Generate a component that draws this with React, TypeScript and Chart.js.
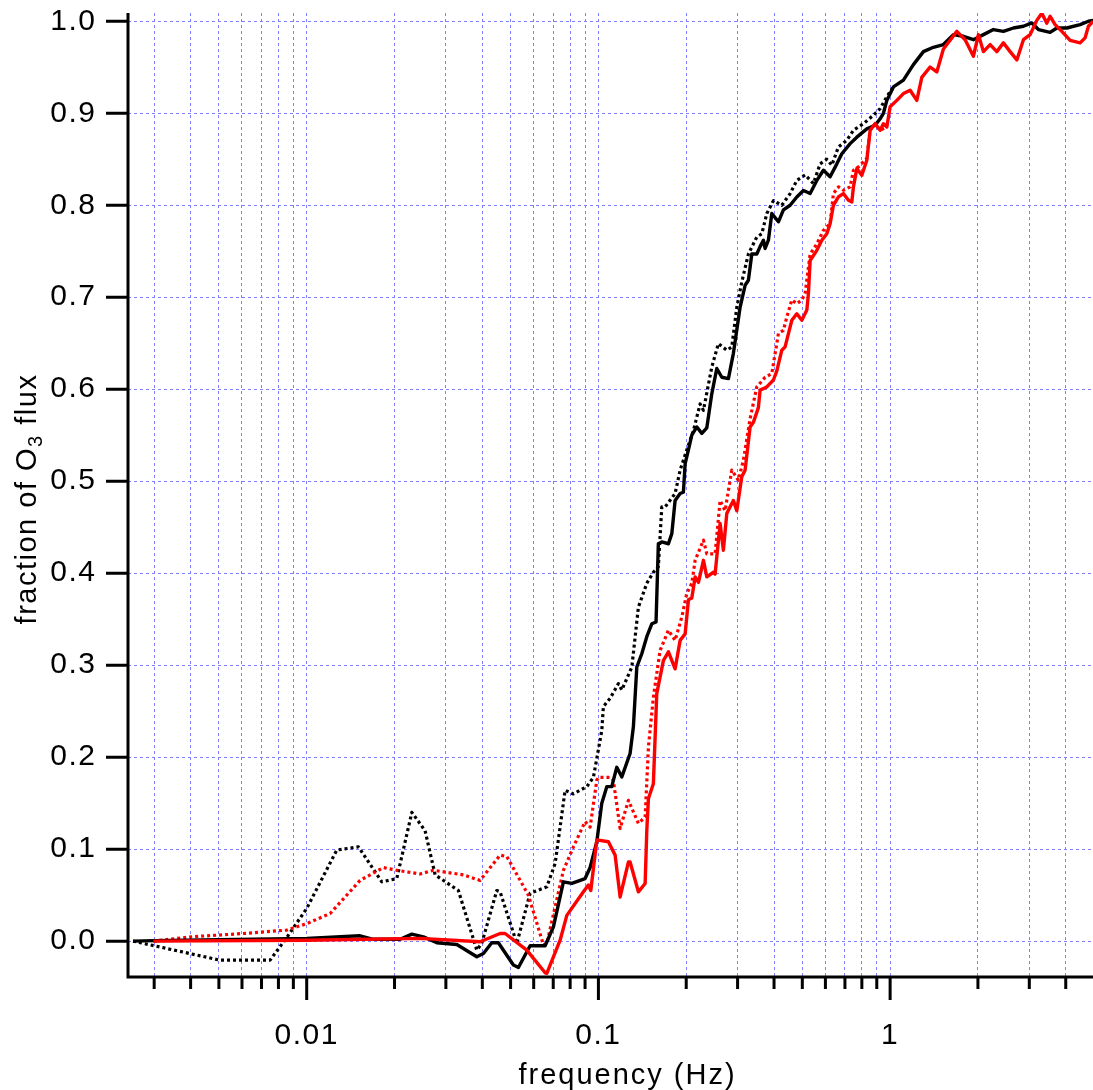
import React, { useEffect, useRef } from 'react';
import { Chart, registerables } from 'chart.js';

Chart.register(...registerables);

// ---------------- data (frequency in Hz, fraction of O3 flux) ----------------
const blackSolidFreq = [0.00254, 0.003, 0.005, 0.01, 0.01524, 0.01693, 0.0209, 0.02293, 0.02512, 0.02793, 0.0327, 0.03829, 0.04035, 0.0431, 0.0454, 0.05112, 0.05318, 0.05832, 0.0631, 0.06567, 0.07011, 0.07586, 0.08106, 0.09003, 0.09367, 0.09874, 0.1027, 0.1069, 0.1111, 0.1156, 0.1203, 0.1284, 0.1318, 0.1354, 0.1409, 0.1465, 0.1524, 0.1576, 0.1605, 0.1649, 0.1738, 0.1785, 0.1832, 0.1906, 0.1956, 0.1983, 0.2035, 0.209, 0.2175, 0.2262, 0.2353, 0.2447, 0.2546, 0.2649, 0.279, 0.2902, 0.306, 0.3183, 0.3267, 0.3356, 0.3491, 0.3583, 0.3678, 0.3728, 0.3826, 0.393, 0.4141, 0.4307, 0.4542, 0.4788, 0.5044, 0.5318, 0.5607, 0.5907, 0.6227, 0.6567, 0.683, 0.7293, 0.7689, 0.832, 0.8884, 0.9241, 0.9484, 0.9743, 1.0264, 1.1106, 1.2018, 1.3005, 1.4071, 1.5227, 1.6482, 1.7835, 1.93, 2.0888, 2.2599, 2.4454, 2.6464, 2.8642, 3.0607, 3.2241, 3.5357, 3.728, 4.0345, 4.4803, 4.7844, 4.966];
const blackSolidFrac = [0, 0.0005, 0.0015, 0.003, 0.0058, 0.002, 0.002, 0.0076, 0.0047, -0.0018, -0.0036, -0.017, -0.0134, -0.0018, -0.0018, -0.026, -0.0286, -0.005, -0.005, -0.005, 0.0155, 0.0645, 0.0627, 0.068, 0.08, 0.108, 0.15, 0.168, 0.168, 0.189, 0.1785, 0.204, 0.233, 0.298, 0.3127, 0.331, 0.345, 0.347, 0.432, 0.434, 0.432, 0.443, 0.479, 0.4866, 0.488, 0.519, 0.534, 0.55, 0.559, 0.552, 0.558, 0.595, 0.6225, 0.613, 0.6115, 0.639, 0.689, 0.713, 0.7185, 0.747, 0.747, 0.755, 0.762, 0.753, 0.762, 0.791, 0.782, 0.795, 0.8, 0.809, 0.816, 0.8127, 0.827, 0.838, 0.831, 0.845, 0.856, 0.867, 0.874, 0.883, 0.887, 0.894, 0.9, 0.914, 0.9286, 0.936, 0.9529, 0.967, 0.9717, 0.9747, 0.9855, 0.9837, 0.98, 0.9855, 0.991, 0.989, 0.9927, 0.9946, 0.9982, 0.991, 0.988, 0.9927, 0.9927, 0.9964, 1.0, 1.001];

const blackDottedFreq = [0.00254, 0.005047, 0.007489, 0.008546, 0.01, 0.01268, 0.01504, 0.01809, 0.02036, 0.02293, 0.02546, 0.02756, 0.03311, 0.03829, 0.03982, 0.04483, 0.04603, 0.05251, 0.05832, 0.06655, 0.07107, 0.07688, 0.0821, 0.08884, 0.09125, 0.09613, 0.1027, 0.104, 0.1097, 0.1171, 0.1203, 0.1302, 0.1371, 0.1465, 0.1543, 0.1605, 0.1649, 0.1693, 0.1832, 0.1906, 0.2009, 0.2117, 0.2232, 0.2291, 0.2447, 0.2578, 0.2755, 0.2866, 0.2981, 0.3101, 0.3267, 0.3491, 0.3632, 0.3778, 0.3981, 0.4253, 0.4542, 0.4788, 0.5112, 0.5459, 0.5754, 0.6067, 0.6311, 0.6649, 0.7105, 0.7486, 0.81, 0.8764, 0.9241, 0.9743, 1.0264];
const blackDottedFrac = [0, -0.0207, -0.0207, 0.004, 0.0355, 0.099, 0.1025, 0.0645, 0.068, 0.14, 0.12, 0.072, 0.055, -0.0098, -0.0025, 0.055, 0.0535, -0.0025, 0.052, 0.059, 0.0845, 0.164, 0.16, 0.166, 0.168, 0.178, 0.229, 0.255, 0.264, 0.28, 0.273, 0.298, 0.363, 0.389, 0.401, 0.407, 0.472, 0.472, 0.4866, 0.512, 0.534, 0.555, 0.584, 0.577, 0.624, 0.6496, 0.6424, 0.646, 0.689, 0.7166, 0.747, 0.7655, 0.769, 0.791, 0.805, 0.8, 0.8127, 0.827, 0.833, 0.8236, 0.845, 0.85, 0.8435, 0.8634, 0.8707, 0.8815, 0.8887, 0.8978, 0.905, 0.918, 0.929];

const redSolidFreq = [0.002981, 0.01, 0.02447, 0.03929, 0.04603, 0.04788, 0.05682, 0.06567, 0.06655, 0.07391, 0.07793, 0.08884, 0.09241, 0.09417, 0.09874, 0.1082, 0.1141, 0.1187, 0.1267, 0.1284, 0.1371, 0.1446, 0.1465, 0.1484, 0.1543, 0.1585, 0.167, 0.1738, 0.1832, 0.1906, 0.1983, 0.2035, 0.209, 0.2146, 0.2203, 0.2291, 0.2353, 0.2479, 0.2512, 0.2613, 0.2682, 0.2755, 0.2902, 0.2981, 0.3101, 0.3183, 0.3311, 0.3398, 0.3535, 0.3583, 0.3778, 0.3981, 0.4089, 0.4253, 0.4365, 0.4481, 0.4603, 0.4788, 0.4981, 0.5182, 0.5247, 0.5318, 0.5607, 0.5833, 0.6067, 0.6227, 0.6392, 0.6649, 0.6916, 0.7195, 0.7392, 0.7486, 0.7689, 0.7998, 0.832, 0.854, 0.8884, 0.9241, 0.9484, 0.9743, 1.0, 1.0544, 1.1106, 1.1709, 1.2344, 1.2841, 1.371, 1.4455, 1.5227, 1.6057, 1.6932, 1.8075, 1.93, 2.0078, 2.0888, 2.2019, 2.3214, 2.4454, 2.5784, 2.7188, 2.8642, 3.02, 3.1836, 3.3113, 3.4448, 3.5357, 3.6784, 3.8779, 4.1408, 4.4803, 4.6607, 4.7844, 4.966];
const redSolidFrac = [0, 0.001, 0.003, -0.0007, 0.0083, 0.0083, -0.0098, -0.0344, -0.035, 0.001, 0.028, 0.0536, 0.061, 0.055, 0.11, 0.108, 0.0935, 0.048, 0.086, 0.086, 0.0536, 0.0627, 0.12, 0.155, 0.171, 0.269, 0.305, 0.3145, 0.296, 0.327, 0.334, 0.371, 0.373, 0.396, 0.39, 0.414, 0.396, 0.401, 0.399, 0.454, 0.425, 0.465, 0.479, 0.468, 0.505, 0.512, 0.559, 0.564, 0.58, 0.599, 0.6025, 0.61, 0.62, 0.6424, 0.646, 0.6605, 0.675, 0.682, 0.675, 0.686, 0.704, 0.74, 0.751, 0.762, 0.769, 0.78, 0.8, 0.809, 0.8127, 0.8054, 0.8036, 0.82, 0.84, 0.8326, 0.849, 0.8815, 0.8887, 0.8815, 0.8887, 0.885, 0.907, 0.914, 0.9214, 0.925, 0.914, 0.939, 0.9503, 0.9449, 0.9699, 0.9793, 0.989, 0.98, 0.962, 0.9855, 0.967, 0.9747, 0.967, 0.9765, 0.967, 0.958, 0.98, 0.9855, 1.001, 1.0087, 0.998, 1.0054, 0.9964, 0.989, 0.9793, 0.9765, 0.982, 0.9946, 1.0];

const redDottedFreq = [0.002981, 0.004037, 0.006067, 0.008546, 0.01, 0.01203, 0.01524, 0.01832, 0.02036, 0.02447, 0.0272, 0.03445, 0.03929, 0.04603, 0.04853, 0.05754, 0.06476, 0.06655, 0.07586, 0.0821, 0.09003, 0.09367, 0.09874, 0.1, 0.1097, 0.1125, 0.1187, 0.1267, 0.1371, 0.1446, 0.1484, 0.1543, 0.1627, 0.1738, 0.1832, 0.1932, 0.2009, 0.209, 0.2146, 0.2291, 0.2353, 0.2512, 0.2613, 0.2718, 0.2866, 0.3019, 0.3141, 0.3311, 0.3491, 0.3728, 0.393, 0.4141, 0.4307, 0.4425, 0.4603, 0.4788, 0.4981, 0.5112, 0.5318, 0.5607, 0.5907, 0.6227, 0.6392, 0.6649, 0.6916, 0.7293, 0.7486, 0.7787, 0.832, 0.854, 0.8884, 0.9241, 0.9743];
const redDottedFrac = [0, 0.0047, 0.0083, 0.012, 0.019, 0.03, 0.066, 0.08, 0.077, 0.073, 0.077, 0.072, 0.066, 0.0935, 0.092, 0.05, -0.004, -0.0025, 0.077, 0.1025, 0.13, 0.124, 0.175, 0.178, 0.178, 0.175, 0.1225, 0.153, 0.128, 0.135, 0.211, 0.265, 0.316, 0.338, 0.327, 0.3525, 0.378, 0.389, 0.414, 0.436, 0.421, 0.421, 0.479, 0.468, 0.512, 0.501, 0.523, 0.568, 0.6025, 0.613, 0.617, 0.6605, 0.664, 0.6786, 0.697, 0.693, 0.697, 0.704, 0.747, 0.758, 0.7728, 0.78, 0.8127, 0.82, 0.8163, 0.82, 0.838, 0.8417, 0.851, 0.8815, 0.8887, 0.8815, 0.885];

// ---------------- axes ----------------
const xMin = 0.00244;
const xMax = 4.96;
const yMin = -0.039;
const yMax = 1.009;
const xTickDecades = [0.001, 0.01, 0.1, 1];
const xTickMultipliers = [1, 2, 3, 4, 5, 6, 7, 8, 9];
const xLabelledTicks = [0.01, 0.1, 1];
const xTickLabels = ['0.01', '0.1', '1'];
const yTickValues = [0, 0.1, 0.2, 0.3, 0.4, 0.5, 0.6, 0.7, 0.8, 0.9, 1.0];
const xTitle = 'frequency (Hz)';
const yTitleMain = 'fraction of O';
const yTitleSub = '3';
const yTitleEnd = ' flux';

const FONT = "'Liberation Sans', Arial, Helvetica, sans-serif";
const GRID = '#8080ff';

const xTickValues: number[] = [];
xTickDecades.forEach((d) => xTickMultipliers.forEach((m) => {
  const v = +(d * m).toPrecision(6);
  if (v >= xMin && v <= xMax) xTickValues.push(v);
}));

const isLabelled = (v: number) => xLabelledTicks.findIndex((t) => Math.abs(t - v) / t < 1e-6);

const pts = (f: number[], v: number[]) => f.map((x, i) => ({ x, y: v[i] }));

const spacingPlugin = {
  id: 'letterSpacing',
  beforeDraw(chart: any) {
    (chart.ctx as any).letterSpacing = '1.5px';
  },
};

const axesPlugin = {
  id: 'igorAxes',
  afterDraw(chart: any) {
    const { ctx, chartArea: a } = chart;
    const xs = chart.scales.x;
    const ys = chart.scales.y;
    ctx.save();
    ctx.strokeStyle = '#000';
    ctx.lineWidth = 3;
    ctx.lineCap = 'butt';
    ctx.beginPath();
    ctx.moveTo(a.left, a.top);
    ctx.lineTo(a.left, a.bottom + 1.5);
    ctx.moveTo(a.left - 1.5, a.bottom);
    ctx.lineTo(a.right, a.bottom);
    for (const v of yTickValues) {
      const p = ys.getPixelForValue(v);
      ctx.moveTo(a.left - 22, p);
      ctx.lineTo(a.left, p);
    }
    for (const t of xs.ticks) {
      const p = xs.getPixelForValue(t.value);
      const major = isLabelled(t.value) >= 0;
      ctx.moveTo(p, a.bottom);
      ctx.lineTo(p, a.bottom + (major ? 23 : 12));
    }
    ctx.stroke();

    // x title
    ctx.fillStyle = '#000';
    ctx.font = `29px ${FONT}`;
    (ctx as any).letterSpacing = '2px';
    ctx.textAlign = 'center';
    ctx.textBaseline = 'alphabetic';
    ctx.fillText(xTitle, (a.left + a.right) / 2 + 17, a.bottom + 107);

    // y title with subscript
    (ctx as any).letterSpacing = '1.5px';
    ctx.textAlign = 'left';
    ctx.font = `29px ${FONT}`;
    const w1 = ctx.measureText(yTitleMain).width;
    const w3 = ctx.measureText(yTitleEnd).width;
    ctx.font = `20px ${FONT}`;
    const w2 = ctx.measureText(yTitleSub).width;
    const total = w1 + w2 + w3;
    ctx.translate(36, (a.top + a.bottom) / 2 + 4);
    ctx.rotate(-Math.PI / 2);
    const x0 = -total / 2;
    ctx.font = `29px ${FONT}`;
    ctx.fillText(yTitleMain, x0, 0);
    ctx.font = `20px ${FONT}`;
    ctx.fillText(yTitleSub, x0 + w1, 6);
    ctx.font = `29px ${FONT}`;
    ctx.fillText(yTitleEnd, x0 + w1 + w2, 0);
    ctx.restore();
    (ctx as any).letterSpacing = '0px';
  },
};

export default function App() {
  const ref = useRef<HTMLCanvasElement | null>(null);

  useEffect(() => {
    if (!ref.current) return;
    const common = { pointRadius: 0, tension: 0, fill: false, borderCapStyle: 'butt', borderJoinStyle: 'round' };
    const chart = new Chart(ref.current, {
      type: 'line',
      data: {
        datasets: [
          { label: 'red solid', data: pts(redSolidFreq, redSolidFrac), borderColor: '#ff0000', borderWidth: 3.4, ...common },
          { label: 'black solid', data: pts(blackSolidFreq, blackSolidFrac), borderColor: '#000000', borderWidth: 3.4, ...common },
          { label: 'red dotted', data: pts(redDottedFreq, redDottedFrac), borderColor: '#ff0000', borderWidth: 3.2, borderDash: [3, 3], ...common },
          { label: 'black dotted', data: pts(blackDottedFreq, blackDottedFrac), borderColor: '#000000', borderWidth: 3.2, borderDash: [3, 3], ...common },
        ] as any,
      },
      options: {
        animation: false,
        responsive: false,
        devicePixelRatio: 1,
        layout: { padding: { left: 0, right: 0, top: 13, bottom: 0 } },
        plugins: { legend: { display: false }, tooltip: { enabled: false }, title: { display: false } },
        scales: {
          x: {
            type: 'logarithmic',
            position: 'bottom',
            min: xMin,
            max: xMax,
            afterBuildTicks: (s: any) => { s.ticks = xTickValues.map((v) => ({ value: v })); },
            afterFit: (s: any) => { s.height = 113; s.paddingLeft = 0; s.paddingRight = 0; },
            ticks: {
              autoSkip: false,
              maxRotation: 0,
              minRotation: 0,
              padding: 41,
              color: '#000',
              font: { family: FONT, size: 30, lineHeight: 1.2 },
              callback: (v: any) => { const i = isLabelled(Number(v)); return i >= 0 ? xTickLabels[i] : ''; },
            },
            grid: { color: GRID, lineWidth: 1, drawTicks: false },
            border: { display: false, dash: [3, 3] },
            title: { display: false },
          },
          y: {
            type: 'linear',
            min: yMin,
            max: yMax,
            afterBuildTicks: (s: any) => { s.ticks = yTickValues.map((v) => ({ value: v })); },
            afterFit: (s: any) => { s.width = 128; s.paddingTop = 0; s.paddingBottom = 0; },
            ticks: {
              padding: 31.5,
              color: '#000',
              font: { family: FONT, size: 30, lineHeight: 1.2 },
              callback: (v: any) => Number(v).toFixed(1),
            },
            grid: { color: GRID, lineWidth: 1, drawTicks: false },
            border: { display: false, dash: [3, 3] },
            title: { display: false },
          },
        },
      } as any,
      plugins: [spacingPlugin, axesPlugin],
    });
    return () => chart.destroy();
  }, []);

  return (
    <div style={{ position: 'absolute', left: 0, top: 0, width: 1093, height: 1090, background: '#fff' }}>
      <canvas ref={ref} width={1093} height={1090} style={{ display: 'block' }} />
    </div>
  );
}
